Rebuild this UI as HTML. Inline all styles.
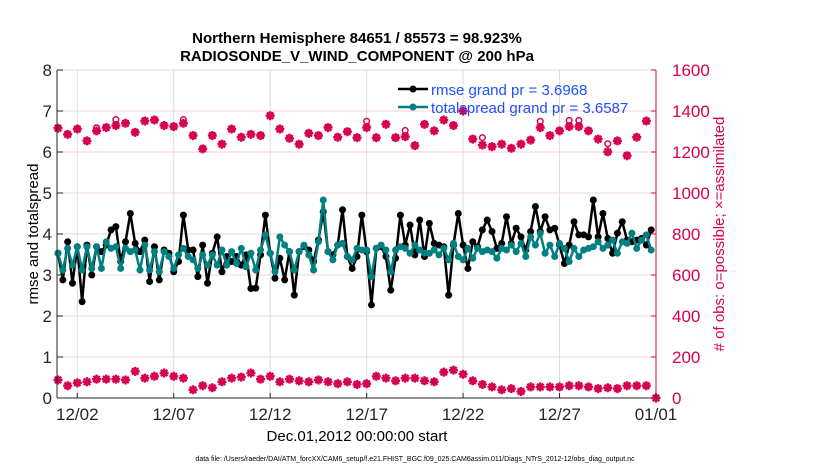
<!DOCTYPE html>
<html><head><meta charset="utf-8"><style>
html,body{margin:0;padding:0;background:#fff;}
svg{display:block;font-family:"Liberation Sans",sans-serif;}
</style></head><body>
<svg id="chart" width="830" height="470" viewBox="0 0 830 470">
<rect width="830" height="470" fill="#fff"/>
<g id="grid"></g>
<g id="obs"></g>
<g id="series"></g>
<g id="axes"></g>
<text x="357" y="43" text-anchor="middle" font-size="15" font-weight="bold">Northern Hemisphere 84651 / 85573 = 98.923%</text>
<text x="357" y="61" text-anchor="middle" font-size="15" font-weight="bold">RADIOSONDE_V_WIND_COMPONENT @ 200 hPa</text>
<text transform="translate(38,234) rotate(-90)" text-anchor="middle" font-size="15">rmse and totalspread</text>
<text transform="translate(724,234) rotate(-90)" text-anchor="middle" font-size="15" fill="#d6004f"># of obs: o=possible; ×=assimilated</text>
<text x="357" y="441" text-anchor="middle" font-size="15">Dec.01,2012 00:00:00 start</text>
<text x="415" y="461" text-anchor="middle" font-size="7">data file: /Users/raeder/DAI/ATM_forcXX/CAM6_setup/f.e21.FHIST_BGC.f09_025.CAM6assim.011/Diags_NTrS_2012-12/obs_diag_output.nc</text>
<g>
<line x1="398" y1="89" x2="428" y2="89" stroke="#000" stroke-width="2.5"/>
<circle cx="413" cy="89" r="3.5" fill="#000"/>
<text x="431" y="95" font-size="15" fill="#1f4fff">rmse grand pr = 3.6968</text>
<line x1="398" y1="107" x2="428" y2="107" stroke="#008080" stroke-width="2.5"/>
<circle cx="413" cy="107" r="3.5" fill="#008080"/>
<text x="431" y="113" font-size="15" fill="#1f4fff">totalspread grand pr = 3.6587</text>
</g>
</svg>
<script>
const rmse = [3.53,2.88,3.81,2.80,3.69,2.35,3.73,3.0,3.69,3.57,3.73,4.10,4.18,3.33,3.81,4.5,3.77,3.57,3.85,2.84,3.69,2.88,3.61,3.53,3.08,3.33,4.46,3.61,3.61,2.96,3.73,2.80,3.53,3.93,3.08,3.45,3.33,3.45,3.24,3.49,2.67,
2.68,3.49,4.46,3.53,2.92,3.41,2.88,3.57,2.51,3.57,3.69,3.61,3.33,3.85,4.54,3.57,3.49,3.73,4.59,3.45,3.16,3.45,4.46,3.57,2.27,3.65,3.69,3.45,2.63,3.41,4.46,3.73,4.22,3.49,4.34,3.45,4.26,3.77,3.73,3.69,2.51,3.73,4.50,
3.73,3.16,3.81,3.69,4.10,4.34,4.06,3.65,3.77,4.42,3.77,4.14,3.93,3.61,4.06,4.67,4.06,4.42,4.10,4.14,3.73,3.28,3.73,4.30,3.98,3.98,3.93,4.83,3.93,4.50,3.89,3.53,4.02,4.30,3.85,3.81,3.85,3.89,3.73,4.10];
const spread = [3.53,3.12,3.65,3.24,3.69,3.12,3.69,3.16,3.69,3.16,3.81,3.65,3.69,3.16,3.65,3.57,3.61,3.12,3.73,3.12,3.57,3.08,3.57,3.45,3.16,3.49,3.65,3.45,3.37,3.16,3.49,3.24,3.49,3.24,3.61,3.24,3.57,3.28,3.65,3.20,3.53,
3.12,3.61,3.98,3.53,3.08,3.93,3.73,3.57,3.12,3.57,3.73,3.49,3.12,3.81,4.83,3.57,3.37,3.73,3.77,3.45,3.37,3.65,3.61,3.61,2.96,3.65,3.73,3.61,3.08,3.61,3.69,3.65,3.53,3.73,3.61,3.53,3.53,3.61,3.49,3.65,3.37,3.77,3.45,
3.37,3.65,3.41,3.65,3.57,3.61,3.57,3.41,3.65,3.61,3.73,3.57,3.77,3.45,3.93,3.73,4.02,3.53,3.73,3.45,3.77,3.65,3.33,3.65,3.45,3.61,3.65,3.69,3.81,3.65,3.73,3.85,3.53,3.81,3.77,4.02,3.65,3.85,3.98,3.61];
const obsAssimTop = [1316,1286,1312,1254,1303,1319,1329,1340,1296,1351,1356,1329,1324,1340,1280,1215,1280,1238,1312,1272,1286,1280,1377,1312,1267,1238,1291,1280,1319,1272,1299,
1270,1319,1270,1335,1270,1275,1231,1335,1303,1356,1329,1400,1263,1234,1226,1238,1218,1238,1258,1319,1280,1303,1324,1324,1303,1263,1201,1254,1182,1272,1351];
const obsPossTop = [1318,1288,1314,1256,1318,1321,1358,1342,1298,1353,1358,1331,1326,1358,1282,1217,1282,1240,1314,1274,1288,1282,1379,1314,1269,1240,1293,1282,1321,1274,1301,
1272,1350,1272,1337,1272,1305,1233,1337,1305,1358,1331,1402,1265,1270,1228,1240,1220,1240,1260,1350,1282,1305,1354,1354,1305,1265,1240,1256,1184,1274,1353];
const obsBottom = [88,60,74,79,92,92,92,88,130,97,106,122,106,97,40,60,50,79,97,102,122,92,106,79,92,84,79,88,79,70,79,66,70,106,97,84,97,97,84,79,126,136,116,84,66,54,40,46,32,54,54,54,54,60,60,54,46,50,46,60,60,60,0];
const leftTicks = [0,1,2,3,4,5,6,7,8];
const rightTicks = [0,200,400,600,800,1000,1200,1400,1600];
const xTickDays = [1,6,11,16,21,26,31];
const xTickLabels = ["12/02","12/07","12/12","12/17","12/22","12/27","01/01"];

const NS="http://www.w3.org/2000/svg";
const L=58,R=656,T=70,B=398;
const xScale=d=>L+(d/31)*(R-L);
const yL=v=>B-(v/8)*(B-T);
const yR=v=>B-(v/1600)*(B-T);
function mk(tag,attrs,parent){const e=document.createElementNS(NS,tag);for(const k in attrs)e.setAttribute(k,attrs[k]);parent.appendChild(e);return e;}
const grid=document.getElementById('grid'),axes=document.getElementById('axes'),ser=document.getElementById('series'),obs=document.getElementById('obs');
const red="#d6004f";
rightTicks.forEach(v=>{const l=mk('line',{x1:L-1,x2:R,y1:yR(v),y2:yR(v),stroke:'#f5d0dc','stroke-width':1},grid);

});
xTickDays.forEach(d=>{const l=mk('line',{x1:xScale(d),x2:xScale(d),y1:T,y2:B,stroke:'#dddddd','stroke-width':1},grid);

});
const la=mk('line',{x1:L-1,x2:L-1,y1:T,y2:B,stroke:'#262626','stroke-width':1},axes);


const ba=mk('line',{x1:L-1,x2:R,y1:B,y2:B,stroke:'#262626','stroke-width':1},axes);


const ra=mk('line',{x1:R,x2:R,y1:T,y2:B,stroke:red,'stroke-width':1},axes);


leftTicks.forEach(v=>{mk('line',{x1:L-1,x2:L+5,y1:yL(v),y2:yL(v),stroke:'#262626'},axes);
const t=mk('text',{x:L-6,y:yL(v)+6,'text-anchor':'end','font-size':17,fill:'#262626'},axes);t.textContent=v;

});
rightTicks.forEach(v=>{mk('line',{x1:R-5,x2:R,y1:yR(v),y2:yR(v),stroke:red},axes);
const t=mk('text',{x:R+16,y:yR(v)+6,'font-size':17,fill:red},axes);t.textContent=v;

});
xTickDays.forEach((d,i)=>{mk('line',{x1:xScale(d),x2:xScale(d),y1:B,y2:B-5,stroke:'#262626'},axes);
const t=mk('text',{x:xScale(d),y:B+22,'text-anchor':'middle','font-size':17,fill:'#262626'},axes);t.textContent=xTickLabels[i];

});
function star(x,y,name){const g=mk('g',{},obs);


mk('path',{d:`M${x-4.5} ${y}H${x+4.5}M${x} ${y-4.5}V${y+4.5}M${x-3.2} ${y-3.2}L${x+3.2} ${y+3.2}M${x-3.2} ${y+3.2}L${x+3.2} ${y-3.2}`,stroke:red,'stroke-width':2.4},g);
mk('circle',{cx:x,cy:y,r:3,fill:red},g);}
obsPossTop.forEach((v,i)=>{const c=mk('circle',{cx:xScale(i*0.5),cy:yR(v),r:2.8,fill:'none',stroke:red,'stroke-width':1.5},obs);

});
obsAssimTop.forEach((v,i)=>star(xScale(i*0.5),yR(v),'obs-assimilated-marker'));
obsBottom.forEach((v,i)=>star(xScale(i*0.5),yR(v),'obs-count-low-marker'));
function line(arr,color,name){
const pts=arr.map((v,i)=>[xScale(i*0.25),yL(v)]);
const p=mk('polyline',{points:pts.map(p=>p.join(',')).join(' '),fill:'none',stroke:color,'stroke-width':2.5,'stroke-linejoin':'round'},ser);


pts.forEach(q=>{const c=mk('circle',{cx:q[0],cy:q[1],r:3.5,fill:color},ser);

});}
line(rmse,'#000','rmse');
line(spread,'#008080','totalspread');
</script>
</body></html>
